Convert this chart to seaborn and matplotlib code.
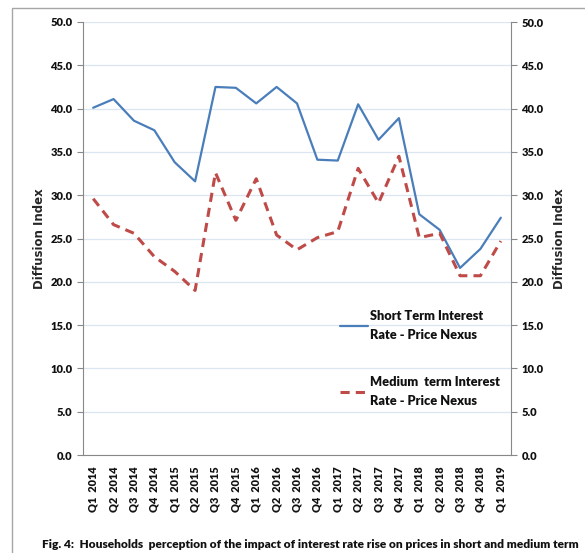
import numpy as np
import pandas as pd
import seaborn as sns
import matplotlib.pyplot as plt
from matplotlib.patches import Rectangle
from matplotlib.legend_handler import HandlerLine2D

# ===============================
# DATA
# ===============================
quarters = ["Q1  2014", "Q2  2014", "Q3  2014", "Q4  2014",
            "Q1  2015", "Q2  2015", "Q3  2015", "Q4  2015",
            "Q1  2016", "Q2  2016", "Q3  2016", "Q4  2016",
            "Q1  2017", "Q2  2017", "Q3  2017", "Q4  2017",
            "Q1  2018", "Q2  2018", "Q3  2018", "Q4  2018",
            "Q1  2019"]
short_term = [40.1, 41.1, 38.6, 37.5, 33.8, 31.6, 42.5, 42.4, 40.6, 42.5, 40.6,
              34.1, 34.0, 40.5, 36.4, 38.9, 27.8, 26.0, 21.6, 23.8, 27.4]
medium_term = [29.6, 26.6, 25.6, 22.9, 21.2, 19.0, 32.6, 27.1, 31.9, 25.4, 23.7,
               25.1, 25.8, 33.1, 29.1, 34.5, 25.1, 25.6, 20.7, 20.7, 24.7]
short_label = "Short Term Interest\nRate - Price Nexus"
medium_label = "Medium  term Interest\nRate - Price Nexus"
caption = "Fig. 4:  Households  perception of the impact of interest rate rise on prices in short and medium term"

df = pd.DataFrame({"pos": np.arange(len(quarters)),
                   "short": short_term, "medium": medium_term})


# legend line level with the first text line (Excel style)
class TopLineHandler(HandlerLine2D):
    def create_artists(self, legend, orig_handle, xdescent, ydescent,
                       width, height, fontsize, trans):
        artists = super().create_artists(legend, orig_handle, xdescent, ydescent,
                                         width, height, fontsize, trans)
        for a in artists:
            y = np.asarray(a.get_ydata(), dtype=float)
            a.set_ydata(np.full_like(y, height - ydescent - 0.35 * fontsize))
        return artists


# ===============================
# STYLE
# ===============================
sns.set_style("white")
plt.rcParams["font.family"] = ["Lato", "DejaVu Sans"]
plt.rcParams["font.weight"] = "heavy"
plt.rcParams["text.color"] = "#111111"
plt.rcParams["xtick.color"] = "#111111"
plt.rcParams["ytick.color"] = "#111111"

fig = plt.figure(figsize=(5.85, 5.53), dpi=100)
ax = fig.add_axes([83 / 585, 1 - 455 / 553, 428 / 585, 433 / 553])

# outer frame
fig.patches.append(Rectangle((12 / 585, -0.05), 1.1, 1 - 8 / 553 + 0.05,
                             transform=fig.transFigure, fill=False,
                             edgecolor="#a6a6a6", linewidth=1.0))

# ===============================
# LINES
# ===============================
sns.lineplot(data=df, x="pos", y="short", ax=ax, color="#4a7ebb",
             linewidth=1.6, label=short_label)
sns.lineplot(data=df, x="pos", y="medium", ax=ax, color="#be4b48",
             linewidth=2.2, linestyle=(0, (3, 2)), label=medium_label)

# ===============================
# AXES
# ===============================
ax.set_xlim(-0.5, len(quarters) - 0.5)
ax.set_ylim(0, 50)
yt = np.arange(0, 50.1, 5)
ax.set_yticks(yt)
ax.set_yticklabels([f"{v:.1f}" for v in yt], fontsize=8, fontweight="heavy")
ax.set_xticks(df["pos"])
ax.set_xticklabels(quarters, rotation=90, fontsize=7.8, fontweight="heavy")
ax.set_xticks(np.arange(-0.5, len(quarters), 1), minor=True)
ax.tick_params(axis="x", which="major", length=0, pad=8)
ax.tick_params(axis="x", which="minor", length=4, color="#888888", direction="out")
ax.tick_params(axis="y", length=4, color="#888888", direction="out", left=True)
ax.yaxis.grid(True, color="#dce6f2", linewidth=0.9)
ax.set_axisbelow(True)
for s in ["left", "bottom"]:
    ax.spines[s].set_color("#888888")
ax.spines["top"].set_visible(False)
ax.spines["right"].set_visible(False)
ax.set_xlabel("")
ax.set_ylabel("Diffusion Index", fontsize=8.5, fontweight="bold",
              family="DejaVu Sans")
ax.yaxis.set_label_coords((46 - 83) / 428, 0.5)

# right axis mirror
ax2 = ax.twinx()
ax2.set_ylim(0, 50)
ax2.set_yticks(yt)
ax2.set_yticklabels([f"{v:.1f}" for v in yt], fontsize=8, fontweight="heavy")
ax2.tick_params(axis="y", length=4, color="#888888", direction="out", right=True)
ax2.spines["right"].set_color("#888888")
for s in ["left", "top", "bottom"]:
    ax2.spines[s].set_visible(False)
ax2.set_ylabel("Diffusion Index", fontsize=8.5, fontweight="bold",
               family="DejaVu Sans")
ax2.yaxis.set_label_coords((553 - 83) / 428, 0.5)

leg = ax.legend(loc="upper left", bbox_to_anchor=(0.574, 0.362), frameon=False,
                handlelength=2.2, handletextpad=0.1, labelspacing=2.7,
                prop={"size": 9.2, "weight": "heavy"},
                handler_map={plt.Line2D: TopLineHandler()})
for t in leg.get_texts():
    t.set_linespacing(1.75)

fig.text(42 / 585, 1 - 544 / 553, caption, fontsize=8.6, fontweight="heavy",
         va="center", ha="left")

fig.savefig("out.png", dpi=100)
